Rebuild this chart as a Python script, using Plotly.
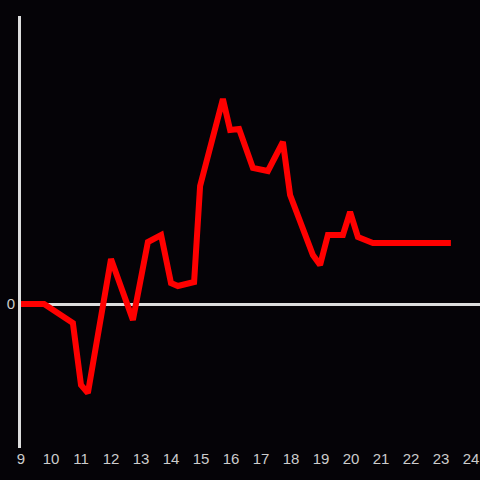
import plotly.graph_objects as go

hours = [9.0, 9.77, 10.73, 11.0, 11.23, 12.0, 12.73, 13.23, 13.67, 14.0, 14.23,
         14.77, 14.97, 15.73, 15.97, 16.27, 16.73, 17.23, 17.73, 17.97, 18.73,
         18.97, 19.23, 19.73, 19.97, 20.23, 20.73, 23.33]
values = [0.0, 0.0, -0.19, -0.81, -0.89, 0.45, -0.16, 0.62, 0.69, 0.21, 0.18,
          0.22, 1.18, 2.05, 1.74, 1.75, 1.36, 1.33, 1.62, 1.09, 0.49,
          0.39, 0.69, 0.69, 0.92, 0.67, 0.61, 0.61]
x_ticks = list(range(9, 25))

fig = go.Figure(go.Scatter(x=hours, y=values, mode="lines",
                           line=dict(color="#ff0000", width=6), hoverinfo="skip"))

fig.update_layout(
    width=480, height=480,
    paper_bgcolor="#050307", plot_bgcolor="#050307",
    margin=dict(l=21, r=0, t=16, b=32),
    showlegend=False,
    font=dict(family="Liberation Sans, Arial, sans-serif", size=15, color="#cccccc"),
    xaxis=dict(range=[9, 9 + 459 / 30], tickvals=x_ticks, ticktext=[str(t) for t in x_ticks],
               showgrid=False, zeroline=False, showline=False, ticks="", fixedrange=True),
    yaxis=dict(range=[-1.44, 2.88], tickvals=[0], ticktext=["0"], showgrid=False,
               zeroline=True, zerolinecolor="#dddddd", zerolinewidth=3,
               showline=True, linecolor="#dddddd", linewidth=3, ticks="", fixedrange=True),
)

fig.write_html("out.html", config={"displayModeBar": False},
               post_script="document.body.style.margin='0';document.body.style.background='#050307';")
